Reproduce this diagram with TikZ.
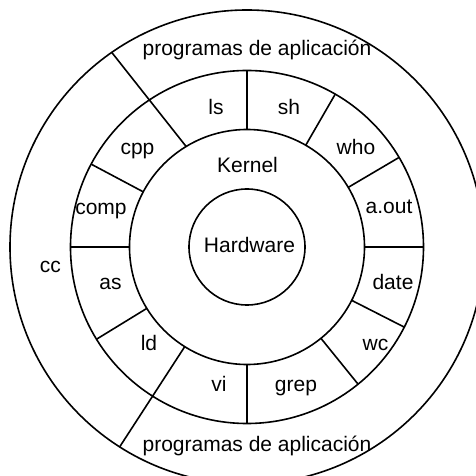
\documentclass[tikz,border=0pt]{standalone}
\usepackage{fontspec}
\setmainfont{Liberation Sans}
\usetikzlibrary{calc}
\begin{document}
\begin{tikzpicture}[x=1pt,y=1pt,
  ring/.style={draw=black, line width=1.6pt},
  divider/.style={draw=black, line width=1.6pt},
  lbl/.style={font=\fontsize{21}{24}\selectfont, inner sep=0pt, anchor=base}]
\useasboundingbox (-247,-229) rectangle (229,247);
\fill[white] (-247,-229) rectangle (229,247);
\coordinate (c) at (0,0);
% circles
\draw[ring] (c) circle (58);
\draw[ring] (c) circle (117.5);
\draw[ring] (c) circle (176.5);
\draw[ring] (c) circle (237);
% dividers in command ring
\foreach \a in {90,60,30.5,0,-27,-51,-90,180,152,-148.5}
  \draw[divider] ($(c)+(\a:117.5)$) -- ($(c)+(\a:176.5)$);
% long dividers reaching outer circle
\draw[divider] ($(c)+(-122:117.5)$) -- ($(c)+(-122.5:237)$);
\draw[divider] ($(c)+(121.2:117.5)$) -- ($(c)+(124.8:237)$);
% labels
\node[lbl] (apptop) at (10,191) {programas de aplicación};
\node[lbl] (appbot) at (10,-204.7) {programas de aplicación};
\node[lbl] (ls) at (-31,132) {ls};
\node[lbl] (sh) at (42,132) {sh};
\node[lbl] (who) at (109,92) {who};
\node[lbl] (cpp) at (-109.5,92) {cpp};
\node[lbl] (kernel) at (0.5,74) {Kernel};
\node[lbl] (comp) at (-146,32) {comp};
\node[lbl] (aout) at (142,33) {a.out};
\node[lbl] (hw) at (2.5,-5.3) {Hardware};
\node[lbl] (cc) at (-196.5,-25.3) {cc};
\node[lbl] (as) at (-136.5,-43) {as};
\node[lbl] (date) at (146,-43) {date};
\node[lbl] (ld) at (-98,-103.5) {ld};
\node[lbl] (wc) at (128.5,-103.5) {wc};
\node[lbl] (vi) at (-28,-144.7) {vi};
\node[lbl] (grep) at (49,-144.7) {grep};
\end{tikzpicture}
\end{document}
